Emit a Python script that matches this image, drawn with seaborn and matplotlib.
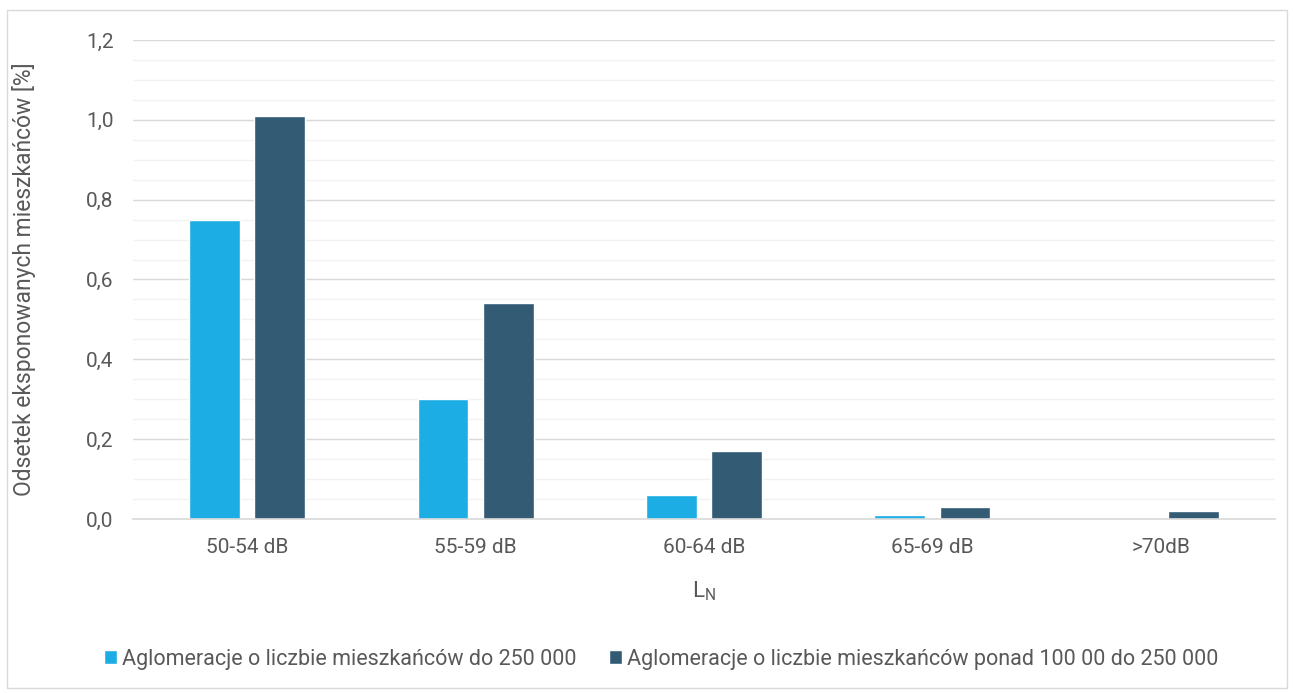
import matplotlib
matplotlib.use("Agg")
import matplotlib.pyplot as plt
from matplotlib.ticker import FuncFormatter, MultipleLocator
from matplotlib.patches import Rectangle
import seaborn as sns
import pandas as pd

categories = ["50-54 dB", "55-59 dB", "60-64 dB", "65-69 dB", ">70dB"]
series_names = [
    "Aglomeracje o liczbie mieszkańców do 250 000",
    "Aglomeracje o liczbie mieszkańców ponad 100 00 do 250 000",
]
small_agglo = [0.75, 0.30, 0.06, 0.01, 0.0]
large_agglo = [1.01, 0.54, 0.17, 0.03, 0.02]
colors = ["#1CADE4", "#335B74"]

df = pd.DataFrame({
    "zakres": categories * 2,
    "seria": [series_names[0]] * len(categories) + [series_names[1]] * len(categories),
    "wartosc": small_agglo + large_agglo,
})

sns.set_theme(style="white")
plt.rcParams["font.family"] = ["Roboto", "DejaVu Sans"]
text_color = "#595959"

fig = plt.figure(figsize=(12.93, 6.93), dpi=100)
ax = fig.add_axes([133 / 1293, 1 - 519 / 693, (1275 - 133) / 1293, (519 - 40) / 693])

sns.barplot(data=df, x="zakres", y="wartosc", hue="seria", palette=colors,
            width=0.57, gap=0.22, ax=ax, order=categories, hue_order=series_names,
            saturation=1, legend=True)

ax.set_ylim(0, 1.2)
ax.yaxis.set_major_locator(MultipleLocator(0.2))
ax.yaxis.set_minor_locator(MultipleLocator(0.05))
ax.yaxis.set_major_formatter(FuncFormatter(lambda v, p: f"{v:.1f}".replace(".", ",")))
ax.grid(axis="y", which="major", color="#D9D9D9", linewidth=1.0)
ax.grid(axis="y", which="minor", color="#F2F2F2", linewidth=1.0)
ax.set_axisbelow(True)
for s in ["top", "right", "left"]:
    ax.spines[s].set_visible(False)
ax.spines["bottom"].set_color("#D9D9D9")
ax.spines["bottom"].set_linewidth(1.2)
ax.tick_params(axis="both", which="both", length=0, labelsize=15, colors=text_color)
ax.tick_params(axis="y", pad=14)
ax.tick_params(axis="x", pad=14)

ax.set_ylabel("Odsetek eksponowanych mieszkańców [%]", fontsize=16.5, color=text_color, labelpad=36)
ax.set_xlabel("L$_\\mathregular{N}$", fontsize=16, color=text_color, labelpad=16)

handles, labels = ax.get_legend_handles_labels()
ax.legend(handles, labels, loc="center", bbox_to_anchor=(661 / 1293, (693 - 659) / 693),
          bbox_transform=fig.transFigure, ncol=2, frameon=False, fontsize=15.5,
          handlelength=0.6, handleheight=0.6, handletextpad=0.25, columnspacing=1.5,
          labelcolor=text_color)

fig.patches.append(Rectangle((7 / 1293, 1 - 688 / 693), 1280 / 1293, 678 / 693,
                             transform=fig.transFigure, fill=False,
                             edgecolor="#D9D9D9", linewidth=1.0))

fig.savefig("out.png", dpi=100, facecolor="white")
